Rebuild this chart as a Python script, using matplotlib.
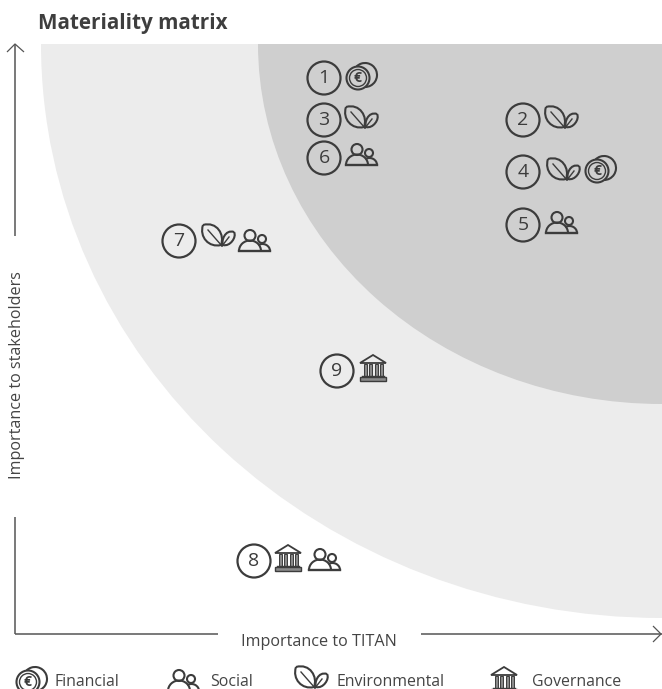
import matplotlib
matplotlib.use("Agg")
import matplotlib.pyplot as plt
import numpy as np
from matplotlib.patches import Ellipse, Circle, PathPatch, Polygon, Arc, Rectangle
from matplotlib.path import Path

plt.rcParams['font.family'] = ['Open Sans', 'DejaVu Sans']
INK = '#3c3c3c'
TXT = '#444444'

# materiality topics: number, position, themes
topic_numbers = ['1', '2', '3', '4', '5', '6', '7', '8', '9']
topic_x = [324, 523, 324, 523, 523, 324, 179, 254, 337]
topic_y = [78, 120, 120, 172, 225, 158, 241, 561, 371]
topic_icon_x = [[361], [561], [361], [563, 600], [561], [361], [218, 254], [288, 324], [373]]
topic_icon_y = [[77], [120], [120], [172, 170], [223], [155], [238, 241], [557, 560], [367]]
topic_themes = [['financial'], ['environmental'], ['environmental'],
                ['environmental', 'financial'], ['social'], ['social'],
                ['environmental', 'social'], ['governance', 'social'], ['governance']]

legend_labels = ['Financial', 'Social', 'Environmental', 'Governance']
legend_themes = ['financial', 'social', 'environmental', 'governance']
legend_icon_x = [31, 183, 311, 504]
legend_icon_y = [681, 681, 680, 679]
legend_text_x = [54, 210, 336, 532]

fig = plt.figure(figsize=(6.62, 6.89), dpi=100)
ax = fig.add_axes([0, 0, 1, 1])
ax.set_xlim(0, 662)
ax.set_ylim(689, 0)
ax.axis('off')

clip = plt.Rectangle((0, 44), 662, 645, transform=ax.transData, fc='none', ec='none')
ax.add_patch(clip)
e1 = Ellipse((662, 44), 2 * 621, 2 * 574, fc='#ececec', ec='none', zorder=1)
e2 = Ellipse((662, 44), 2 * 404, 2 * 360, fc='#cfcfcf', ec='none', zorder=2)
for e in (e1, e2):
    ax.add_patch(e)
    e.set_clip_path(clip)

LW = 1.1
def seg(xs, ys, lw=LW, c='#555555'):
    ax.plot(xs, ys, color=c, lw=lw, solid_capstyle='butt', zorder=3)

# axes with arrows
seg([15, 15], [44, 236])
seg([15, 15], [517, 634])
seg([15, 218], [634, 634])
seg([421, 662], [634, 634])
seg([7, 15, 24], [52, 44, 52], lw=0.9)
seg([653, 661, 653], [626, 634, 642], lw=0.9)

ax.text(38, 24, 'Materiality matrix', fontsize=14.9, fontweight='bold', color='#3e3e3e', va='center', ha='left')
ax.text(319, 642, 'Importance to TITAN', fontsize=11.6, color=TXT, va='center', ha='center')
ax.text(17, 375, 'Importance to stakeholders', fontsize=11.6, color=TXT, va='center', ha='center', rotation=90)


def icon_financial(x, y, s=1.0):
    ax.add_patch(Arc((x + 4, y - 2), 24 * s, 24 * s, theta1=225, theta2=450, ec=INK, lw=1.5, zorder=5))
    ax.add_patch(Circle((x - 3, y + 1), 11.5 * s, fill=False, ec=INK, lw=1.5, zorder=5))
    ax.add_patch(Circle((x - 3, y + 1), 8.5 * s, fill=False, ec=INK, lw=1.0, zorder=5))
    ax.text(x - 3, y + 1, '€', fontsize=10 * s, fontweight='bold', color=INK, ha='center', va='center', zorder=6)


def icon_environmental(x, y, s=1.0):
    def P(pts):
        return [(x + a * s, y + b * s) for a, b in pts]
    C4 = Path.CURVE4
    big = Path(P([(-15, -13), (-1, -17), (7, -3), (3, 7), (-9, 10), (-19, -1), (-15, -13)]),
               [Path.MOVETO, C4, C4, C4, C4, C4, C4])
    small = Path(P([(16, -6), (7, -9), (3, 3), (5, 7), (12, 9), (19, -1), (16, -6)]),
                 [Path.MOVETO, C4, C4, C4, C4, C4, C4])
    for p in (big, small):
        ax.add_patch(PathPatch(p, fill=False, ec=INK, lw=1.5, zorder=5))
    a = np.array(P([(-10, -8), (4, 8)])); b = np.array(P([(4, 8), (11, -1)]))
    ax.plot(a[:, 0], a[:, 1], color=INK, lw=1.0, zorder=5)
    ax.plot(b[:, 0], b[:, 1], color=INK, lw=1.0, zorder=5)


def icon_social(x, y, s=1.0):
    ax.add_patch(Circle((x - 4 * s, y - 5.5 * s), 5.5 * s, fill=False, ec=INK, lw=1.5, zorder=5))
    ax.add_patch(Circle((x + 8 * s, y - 2 * s), 4 * s, fill=False, ec=INK, lw=1.5, zorder=5))
    ax.add_patch(Arc((x - 4 * s, y + 10 * s), 22 * s, 21 * s, theta1=180, theta2=360, ec=INK, lw=1.5, zorder=5))
    ax.add_patch(Arc((x + 8.5 * s, y + 10 * s), 15 * s, 14 * s, theta1=235, theta2=360, ec=INK, lw=1.5, zorder=5))
    ax.plot([x - 15 * s, x + 16 * s], [y + 10 * s, y + 10 * s], color=INK, lw=1.7, zorder=5)


def icon_governance(x, y, s=1.0):
    ax.add_patch(Polygon([(x - 13 * s, y - 4 * s), (x, y - 12 * s), (x + 13 * s, y - 4 * s)], closed=True,
                         fill=False, ec=INK, lw=1.3, zorder=5))
    for dx in (-8, -3, 3, 8):
        ax.add_patch(Rectangle((x + (dx - 1.5) * s, y - 3 * s), 3 * s, 11.5 * s, fc='#8a8a8a', ec=INK, lw=0.7, zorder=5))
    ax.plot([x - 11 * s, x + 11 * s], [y + 8.5 * s, y + 8.5 * s], color=INK, lw=1.0, zorder=5)
    ax.add_patch(Rectangle((x - 13 * s, y + 9.5 * s), 26 * s, 4 * s, fc='#8a8a8a', ec=INK, lw=1.0, zorder=5))


ICONS = dict(financial=icon_financial, environmental=icon_environmental,
             social=icon_social, governance=icon_governance)

for n, x, y, ix, iy, th in zip(topic_numbers, topic_x, topic_y, topic_icon_x, topic_icon_y, topic_themes):
    ax.add_patch(Circle((x, y), 16.5, fill=False, ec=INK, lw=1.6, zorder=5))
    ax.text(x, y, n, fontsize=14, color=INK, ha='center', va='center', zorder=6)
    for a, b, t in zip(ix, iy, th):
        ICONS[t](a, b)

for lab, t, ix, iy, tx in zip(legend_labels, legend_themes, legend_icon_x, legend_icon_y, legend_text_x):
    ICONS[t](ix, iy)
    ax.text(tx, 682, lab, fontsize=11.4, color=TXT, ha='left', va='center', zorder=6)

fig.savefig('out.png', dpi=100)
